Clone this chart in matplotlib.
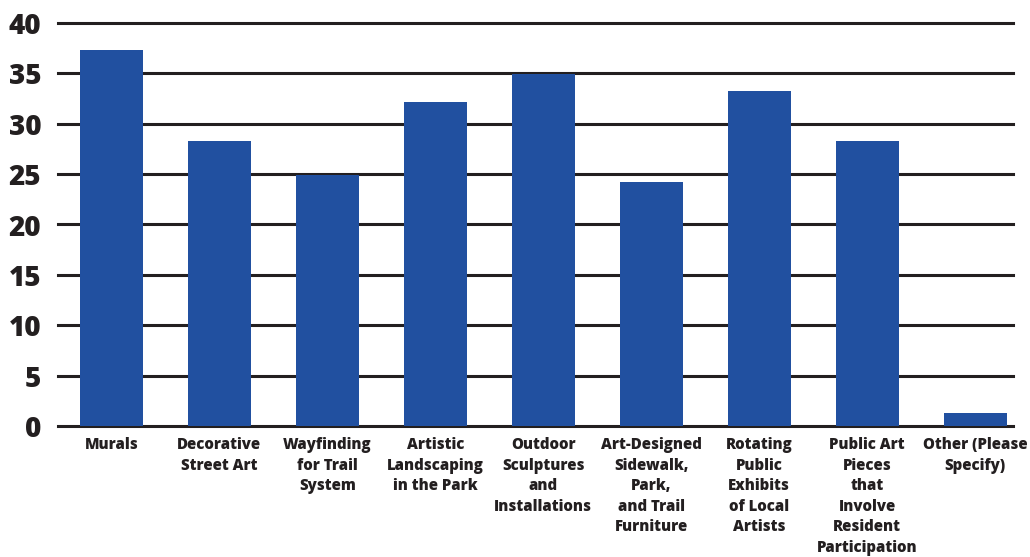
import matplotlib.pyplot as plt

# Survey responses per public art type
categories = [
    "Murals",
    "Decorative\nStreet Art",
    "Wayfinding\nfor Trail\nSystem",
    "Artistic\nLandscaping\nin the Park",
    "Outdoor\nSculptures\nand\nInstallations",
    "Art-Designed\nSidewalk,\nPark,\nand Trail\nFurniture",
    "Rotating\nPublic\nExhibits\nof Local\nArtists",
    "Public Art\nPieces\nthat\nInvolve\nResident\nParticipation",
    "Other (Please\nSpecify)",
]
values = [37.3, 28.3, 24.9, 32.2, 34.95, 24.2, 33.3, 28.3, 1.3]
yticks = [0, 5, 10, 15, 20, 25, 30, 35, 40]

plt.rcParams['font.family'] = ['Open Sans', 'DejaVu Sans']
text_color = '#231f20'
bar_color = '#2150a0'

fig = plt.figure(figsize=(10.3, 5.57), dpi=100)
ax = fig.add_axes([58 / 1030, (557 - 426) / 557, (1013 - 58) / 1030, (426 - 23) / 557])

x = list(range(len(categories)))
ax.bar(x, values, width=0.583, color=bar_color, zorder=3)

ax.set_ylim(0, 40)
ax.set_xlim(-0.495, 8.35)
ax.set_yticks(yticks)
ax.set_yticklabels([str(t) for t in yticks], fontsize=20, fontweight=800, color=text_color)
ax.set_xticks(x)
ax.set_xticklabels(categories, fontsize=10.8, fontweight=800, color=text_color,
                   linespacing=1.38, va='top')
ax.tick_params(axis='y', length=0, pad=12)
ax.tick_params(axis='x', length=0, pad=8)

# horizontal grid lines
for t in yticks:
    ax.axhline(t, color=text_color, linewidth=2.2, zorder=2, clip_on=False)

for s in ax.spines.values():
    s.set_visible(False)

fig.savefig('out.png', dpi=100)
